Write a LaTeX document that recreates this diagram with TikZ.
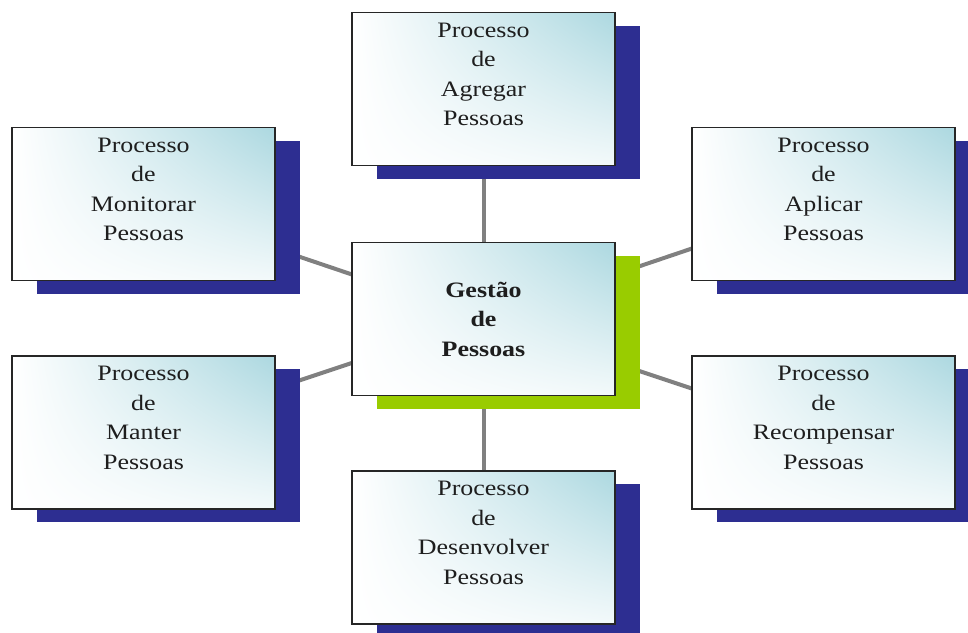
\documentclass[tikz,border=0pt]{standalone}
\usepackage{fontspec}
\setmainfont[FakeStretch=1.18]{Liberation Serif}
\usetikzlibrary{shadows,shadings}
\pgfdeclarelayer{bg}
\pgfsetlayers{bg,main}
\definecolor{navy}{RGB}{45,46,145}
\definecolor{lime}{RGB}{153,204,0}
\definecolor{tealish}{RGB}{172,216,224}
\definecolor{conn}{RGB}{128,128,128}
\definecolor{txt}{RGB}{30,30,30}
\tikzset{
  procbox/.style={rectangle, draw=black!85, line width=1.1pt,
    minimum width=263pt, minimum height=153pt, inner sep=0pt,
    upper left=white, upper right=tealish, lower left=white, lower right=white!85!tealish,
    drop shadow={shadow xshift=25pt, shadow yshift=-13pt, fill=navy, opacity=1}},
  mainbox/.style={rectangle, draw=black!85, line width=1.1pt,
    minimum width=263pt, minimum height=153pt, inner sep=0pt,
    upper left=white, upper right=tealish, lower left=white, lower right=white!85!tealish,
    drop shadow={shadow xshift=25pt, shadow yshift=-13pt, fill=lime, opacity=1}},
  lbl/.style={align=center, inner sep=0pt, text=txt,
    font=\fontsize{22}{29.5}\selectfont},
  conline/.style={draw=conn, line width=4pt}
}
\begin{document}
\begin{tikzpicture}[x=1pt,y=-1pt]
\useasboundingbox (0,0) rectangle (968,632);
% boxes
\node[procbox] (agregar) at (483.5,89) {};
\node[procbox] (monitorar) at (143.5,204) {};
\node[procbox] (aplicar) at (823.5,204) {};
\node[mainbox, lbl, font=\fontsize{22}{29.5}\selectfont\bfseries] (gestao) at (483.5,319) {Gestão\\de\\Pessoas};
\node[procbox] (manter) at (143.5,432.5) {};
\node[procbox] (recompensar) at (823.5,432.5) {};
\node[procbox] (desenvolver) at (483.5,547.5) {};
% labels
\node[lbl, anchor=north] (agregar-t) at ([yshift=-10.5pt]agregar.north) {Processo\\de\\Agregar\\Pessoas};
\node[lbl, anchor=north] (monitorar-t) at ([yshift=-10.5pt]monitorar.north) {Processo\\de\\Monitorar\\Pessoas};
\node[lbl, anchor=north] (aplicar-t) at ([yshift=-10.5pt]aplicar.north) {Processo\\de\\Aplicar\\Pessoas};
\node[lbl, anchor=north] (manter-t) at ([yshift=-10.5pt]manter.north) {Processo\\de\\Manter\\Pessoas};
\node[lbl, anchor=north] (recompensar-t) at ([yshift=-10.5pt]recompensar.north) {Processo\\de\\Recompensar\\Pessoas};
\node[lbl, anchor=north] (desenvolver-t) at ([yshift=-10.5pt]desenvolver.north) {Processo\\de\\Desenvolver\\Pessoas};
% connectors
\begin{pgfonlayer}{bg}
\draw[conline] (gestao.center) -- (agregar.center);
\draw[conline] (gestao.center) -- (monitorar.center);
\draw[conline] (gestao.center) -- (aplicar.center);
\draw[conline] (gestao.center) -- (manter.center);
\draw[conline] (gestao.center) -- (recompensar.center);
\draw[conline] (gestao.center) -- (desenvolver.center);
\end{pgfonlayer}
\end{tikzpicture}
\end{document}
